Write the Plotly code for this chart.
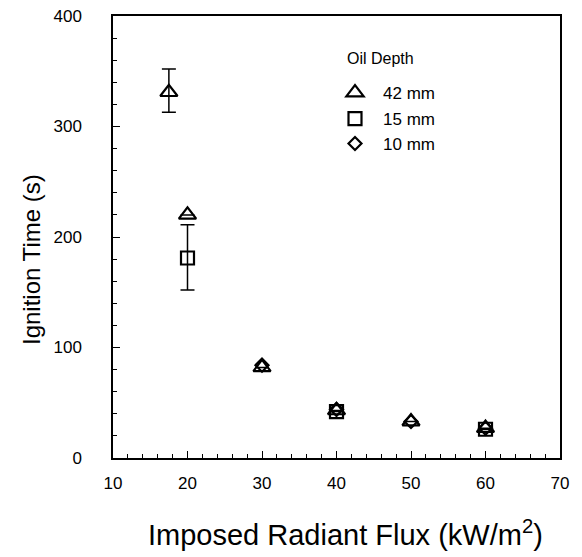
import plotly.graph_objects as go

# Data
flux_42 = [17.5, 20, 30, 40, 50, 60]
time_42 = [331, 220, 82, 43, 33, 27]
err_42_plus = [21, None, None, None, None, None]
err_42_minus = [18, None, None, None, None, None]

flux_15 = [20, 40, 60]
time_15 = [181, 42, 26]
err_15_plus = [30, None, None]
err_15_minus = [29, None, None]

flux_10 = [30, 40, 50, 60]
time_10 = [84, 44, 33, 27]

labels = ["42 mm", "15 mm", "10 mm"]
x_title = "Imposed Radiant Flux (kW/m<sup>2</sup>)"
y_title = "Ignition Time (s)"
legend_title = "Oil Depth"

FONT = "Liberation Sans, Arial, sans-serif"

fig = go.Figure()

def err(plus, minus):
    return dict(type="data", symmetric=False, array=plus, arrayminus=minus,
                color="black", thickness=1.5, width=7)

fig.add_trace(go.Scatter(
    x=flux_42, y=time_42, mode="markers", name=labels[0], legend="legend",
    marker=dict(symbol="triangle-up-open", size=15, color="black", line=dict(width=2.2, color="black")),
    error_y=err(err_42_plus, err_42_minus),
))
fig.add_trace(go.Scatter(
    x=flux_15, y=time_15, mode="markers", name=labels[1], legend="legend2",
    marker=dict(symbol="square-open", size=13, color="black", line=dict(width=2.2, color="black")),
    error_y=err(err_15_plus, err_15_minus),
))
fig.add_trace(go.Scatter(
    x=flux_10, y=time_10, mode="markers", name=labels[2], legend="legend3",
    marker=dict(symbol="diamond-open", size=10, color="black", line=dict(width=2.2, color="black")),
))

# the page body adds an 8px offset; layout is computed in screen pixels
OFF = 8
W, H = 582, 557
L_SCR, R_SCR, T_SCR, B_SCR = 113, 560, 16, 458
ML, MT = L_SCR - OFF, T_SCR - OFF
MR, MB = W - (R_SCR - OFF), H - (B_SCR - OFF)
PW, PH = W - ML - MR, H - MT - MB

def py(pix):
    return 1 - (pix - OFF - MT) / PH

def px(pix):
    return (pix - OFF - ML) / PW

leg_common = dict(xanchor="left", yanchor="middle", bgcolor="rgba(0,0,0,0)",
                  font=dict(family=FONT, size=17, color="black"), itemwidth=46)
fig.update_layout(
    width=W, height=H,
    margin=dict(l=ML, r=MR, t=MT, b=MB, autoexpand=False),
    paper_bgcolor="white", plot_bgcolor="white",
    font=dict(family=FONT, color="black"),
    showlegend=True,
    legend=dict(x=px(327), y=py(93), **leg_common),
    legend2=dict(x=px(327), y=py(119), **leg_common),
    legend3=dict(x=px(327), y=py(144), **leg_common),
    annotations=[
        dict(text=legend_title, x=px(380), y=py(59), xref="paper", yref="paper",
             xanchor="center", yanchor="middle",
             showarrow=False, font=dict(family=FONT, size=16, color="black")),
        dict(text=x_title, x=px(345), y=py(533), xref="paper", yref="paper",
             xanchor="center", yanchor="middle",
             showarrow=False, font=dict(family=FONT, size=29, color="black")),
        dict(text=y_title, x=px(31), y=py(260), xref="paper", yref="paper", textangle=-90,
             xanchor="center", yanchor="middle",
             showarrow=False, font=dict(family=FONT, size=24, color="black")),
    ],
)

fig.update_xaxes(
    range=[10, 70], tickvals=[10, 20, 30, 40, 50, 60, 70], automargin=False,
    showgrid=False, zeroline=False,
    showline=True, linecolor="black", linewidth=1.5, mirror=True,
    ticks="inside", ticklen=7, tickwidth=1.2, tickcolor="black",
    minor=dict(dtick=2, ticks="inside", ticklen=4, tickwidth=1, tickcolor="black", showgrid=False),
    tickfont=dict(family=FONT, size=17, color="black"),
    ticklabelstandoff=9, ticklabeloverflow="allow",
)
fig.update_yaxes(
    range=[0, 400], tickvals=[0, 100, 200, 300, 400], automargin=False,
    showgrid=False, zeroline=False,
    showline=True, linecolor="black", linewidth=1.5, mirror=True,
    ticks="inside", ticklen=7, tickwidth=1.2, tickcolor="black",
    minor=dict(dtick=20, ticks="inside", ticklen=4, tickwidth=1, tickcolor="black", showgrid=False),
    tickfont=dict(family=FONT, size=17, color="black"),
    ticklabelstandoff=26, ticklabeloverflow="allow",
)

fig.write_html("out.html")
